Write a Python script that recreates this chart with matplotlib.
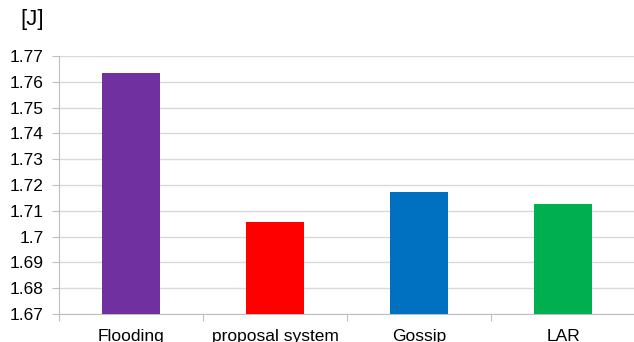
import matplotlib
matplotlib.use("Agg")
import matplotlib.pyplot as plt

categories = ["Flooding", "proposal system", "Gossip", "LAR"]
energy = [1.7633, 1.7056, 1.7171, 1.7127]
colors = ["#7030A0", "#FF0000", "#0070C0", "#00B050"]
yticks = [1.67, 1.68, 1.69, 1.70, 1.71, 1.72, 1.73, 1.74, 1.75, 1.76, 1.77]
ytick_labels = ["1.67", "1.68", "1.69", "1.7", "1.71", "1.72", "1.73", "1.74", "1.75", "1.76", "1.77"]

plt.rcParams["font.family"] = ["Liberation Sans", "DejaVu Sans"]

W, H = 634, 342
fig = plt.figure(figsize=(W / 100, H / 100), dpi=100)
left, right, top, bottom = 59, 635, 56, 314
ax = fig.add_axes([left / W, 1 - bottom / H, (right - left) / W, (bottom - top) / H])

x = list(range(len(categories)))
ax.bar(x, [v - yticks[0] for v in energy], bottom=yticks[0], width=0.4, color=colors, zorder=3)

ax.set_xlim(-0.5, len(categories) - 0.5)
ax.set_ylim(yticks[0], yticks[-1])
ax.set_yticks(yticks)
ax.set_yticklabels(ytick_labels, fontsize=12.5)
ax.yaxis.grid(True, color="#D9D9D9", linewidth=1.0, zorder=0)

ax.set_xticks([i + 0.5 for i in range(-1, len(categories))])
ax.set_xticklabels([])
ax.set_xticks(x, minor=True)
ax.set_xticklabels(categories, minor=True, fontsize=12.5)
ax.tick_params(axis="x", which="minor", length=0, pad=11)
ax.tick_params(axis="x", which="major", length=5, color="#BFBFBF")
ax.tick_params(axis="y", length=5, color="#BFBFBF", pad=6)

for side in ["top", "right"]:
    ax.spines[side].set_visible(False)
for side in ["left", "bottom"]:
    ax.spines[side].set_color("#BFBFBF")

fig.text(32 / W, 1 - 20 / H, "[J]", fontsize=16, ha="center", va="center")

fig.savefig("out.png", dpi=100)
